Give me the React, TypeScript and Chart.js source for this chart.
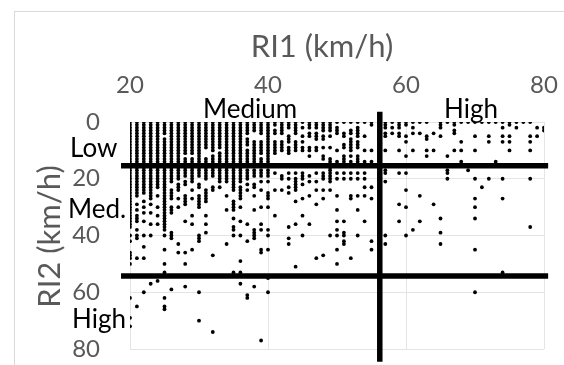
import React, { useEffect, useRef } from "react";
import { Chart, registerables } from "chart.js";

Chart.register(...registerables);

// ---- data ----
const xTicks = [20, 40, 60, 80];
const yTicks = [0, 20, 40, 60, 80];

// RI1 value of each column of points (km/h)
const columnX = [
  20, 21, 22, 23, 24, 25, 26, 27, 28, 29, 30, 31, 32, 33, 34, 35, 36, 37, 38, 39, 40,
  41, 42, 43, 44, 45, 46, 47, 48, 49, 50, 51, 52, 53, 54, 55, 56, 57, 58, 59, 60,
  61, 62, 63, 64, 65, 66, 67, 68, 69, 70, 71, 72, 73, 74, 75, 76, 77, 78, 79, 80,
];

// RI2 values present in each column ("a-b" = an unbroken run of dots a..b)
const columnY = [
  "0-37,40,42,46,47,48,50,62,69,72",
  "0-26,29,31,33,34,35,38,40,41,48,65",
  "0-25,28,30,32,35,40,44,48,60",
  "0-27,29,32,36,40,57",
  "0-23,26,30,33,36,56",
  "0-4,6-38,40,45,50,53,62,65,66",
  "0-21,24-27,30-32,39,40,41,59",
  "0-20,22-24,27,30,43,46",
  "0-11,13-19,21,22,26-29,35,46,50,58",
  "0-11,13-21,24,27,33,36,45",
  "0-19,22,23,26-30,40,41,42,60,70",
  "0-9,13-20,24-28,33,36,39",
  "0-10,12-19,23,24,47,74",
  "0-9,11-21,23",
  "0-21,26,31,43",
  "0-24,28-31,34,37,38,40,53",
  "0-21,23-27,30,35,40,49,53,57",
  "0-4,6-8,10-14,17-20,22,24,36,42,61,62",
  "0-3,7-14,17-19,22,23,26,31,38,39,40,41,58",
  "0-4,7-11,13,14,17-19,21,24,30,36,38,45,46,77",
  "0-14,17-19,21,25,26,27,30,38,40,45,55,60",
  "0,1,3,4,7-11,18,24,33",
  "0-4,7-10,19,20,24",
  "0-2,5-7,9-11,18,20,23,25,37,41,43",
  "0-4,7-10,18,20-24,28,36,51",
  "0,2,5,7,9,10,18,19,20,22,27,33,40",
  "0-2,4,5,9,10,12,19,21,26,36",
  "0-2,4-6,9,10,18,21,24,29,48",
  "0-3,5,6,9,12,13,18-20,24,27,47",
  "0-3,5,9,13-21,24,40",
  "0,2,3,4,10,14,18,20,26,31,35,38,40,45,50",
  "0,4,5,8,9,12,13,14,18,20,35,39,40,42,43",
  "0,3,4,6-10,12,14,18,20,26,27,48",
  "0,2-5,7-9,12,13,14,18,20,26,31,40",
  "0,5,10,14,18,20,23,26,35",
  "0,1,10,14,23,27,42,45",
  "",
  "0,1,2,4,5,10,17,18,21,40,43",
  "0,2,4",
  "0,1,2,4,5,10,18,29,35",
  "0,1,5,7,12,18,24,30,40",
  "0,2,4,10,38",
  "0,4,26,35",
  "0,5,6,10,12",
  "4,10,29",
  "0,1,2,5,34,39,43",
  "0,12,17,18,20",
  "0,1,3,4,10",
  "0,7,10,14",
  "0,17",
  "0,5,10,20,27,30,34,45,60",
  "0,23",
  "0,5,7,20",
  "0,14",
  "0,2,5,7,20,27,53",
  "0,1,5,7,10",
  "0,2",
  "0",
  "0,5,7,10,20,37",
  "2,5",
  "2,3",
];

// class boundaries drawn as thick lines
const boundaryRI1 = [56.2];
const boundaryRI2 = [15.4, 54.3];

const xTitle = "RI1 (km/h)";
const yTitle = "RI2 (km/h)";

function parseColumn(spec: string): number[] {
  if (!spec) return [];
  const out: number[] = [];
  for (const tok of spec.split(",")) {
    if (tok.includes("-")) {
      const [a, b] = tok.split("-").map(Number);
      for (let v = a; v <= b; v++) out.push(v);
    } else out.push(Number(tok));
  }
  return out;
}

const FONT = "Lato, 'Open Sans', sans-serif";
const GREY = "#595959";

const overlayPlugin = {
  id: "overlay",
  beforeDraw(chart: any) {
    const ctx = chart.ctx;
    ctx.save();
    ctx.fillStyle = "#fff";
    ctx.fillRect(0, 0, chart.width, chart.height);
    ctx.strokeStyle = "#d9d9d9";
    ctx.lineWidth = 1;
    ctx.strokeRect(14.5, 11.5, 700, 500);
    ctx.restore();
  },
  afterDraw(chart: any) {
    const ctx = chart.ctx;
    const area = chart.chartArea;
    ctx.save();
    // axis titles
    ctx.fillStyle = GREY;
    ctx.font = `31px ${FONT}`;
    ctx.textAlign = "center";
    ctx.textBaseline = "alphabetic";
    ctx.fillText(xTitle, (area.left + area.right) / 2 - 15, 57);
    ctx.save();
    ctx.translate(50, (area.top + area.bottom) / 2 + 1);
    ctx.rotate(-Math.PI / 2);
    ctx.textBaseline = "middle";
    ctx.fillText(yTitle, 0, 0);
    ctx.restore();
    // class labels
    ctx.fillStyle = "#000";
    ctx.font = `26px ${FONT}`;
    ctx.textAlign = "left";
    ctx.textBaseline = "alphabetic";
    ctx.fillText("Medium", 203, 118);
    ctx.fillText("High", 444, 118);
    ctx.fillText("Low", 70, 157);
    ctx.fillText("Med.", 68, 218);
    ctx.fillText("High", 72, 328);
    ctx.restore();
  },
};

export default function App() {
  const ref = useRef<HTMLCanvasElement | null>(null);

  useEffect(() => {
    if (!ref.current) return;
    const points: { x: number; y: number }[] = [];
    columnX.forEach((x, i) => {
      parseColumn(columnY[i]).forEach((y) => points.push({ x, y }));
    });

    const lineStyle = {
      type: "line" as const,
      borderColor: "#000",
      backgroundColor: "#000",
      borderWidth: 5.5,
      pointRadius: 0,
      showLine: true,
      clip: false as any,
      order: 0,
    };

    const datasets: any[] = [
      {
        type: "scatter",
        data: points,
        backgroundColor: "#000",
        borderColor: "#000",
        pointRadius: 1.9,
        pointBorderWidth: 0,
        order: 1,
      },
      ...boundaryRI1.map((x) => ({
        ...lineStyle,
        data: [
          { x, y: -3.6 },
          { x, y: 84.5 },
        ],
      })),
      ...boundaryRI2.map((y) => ({
        ...lineStyle,
        data: [
          { x: 18.7, y },
          { x: 80.6, y },
        ],
      })),
    ];

    const chart = new Chart(ref.current, {
      type: "scatter",
      data: { datasets },
      options: {
        responsive: false,
        animation: false,
        devicePixelRatio: 1,
        layout: { padding: { left: 0, right: 20, top: 0, bottom: 16 } },
        plugins: { legend: { display: false }, tooltip: { enabled: false } },
        scales: {
          x: {
            type: "linear",
            position: "top",
            min: 20,
            max: 80,
            afterBuildTicks: (s: any) => {
              s.ticks = xTicks.map((v) => ({ value: v }));
            },
            afterFit: (s: any) => {
              s.height = 122;
              s.paddingLeft = 0;
              s.paddingRight = 0;
            },
            ticks: {
              color: GREY,
              font: { family: FONT, size: 24 },
              padding: 22,
              maxRotation: 0,
            },
            grid: { color: "#e4e4e4", drawTicks: false },
            border: { display: false },
          },
          y: {
            type: "linear",
            reverse: true,
            min: 0,
            max: 80,
            afterBuildTicks: (s: any) => {
              s.ticks = yTicks.map((v) => ({ value: v }));
            },
            afterFit: (s: any) => {
              s.width = 130;
              s.paddingTop = 0;
              s.paddingBottom = 0;
            },
            ticks: {
              color: GREY,
              font: { family: FONT, size: 24 },
              padding: 30,
            },
            grid: { color: "#e4e4e4", drawTicks: false },
            border: { display: false },
          },
        },
      } as any,
      plugins: [overlayPlugin],
    });
    return () => chart.destroy();
  }, []);

  return (
    <div style={{ position: "fixed", left: 0, top: 0, width: 564, height: 365 }}>
      <canvas ref={ref} width={564} height={365} style={{ width: 564, height: 365, display: "block" }} />
    </div>
  );
}
